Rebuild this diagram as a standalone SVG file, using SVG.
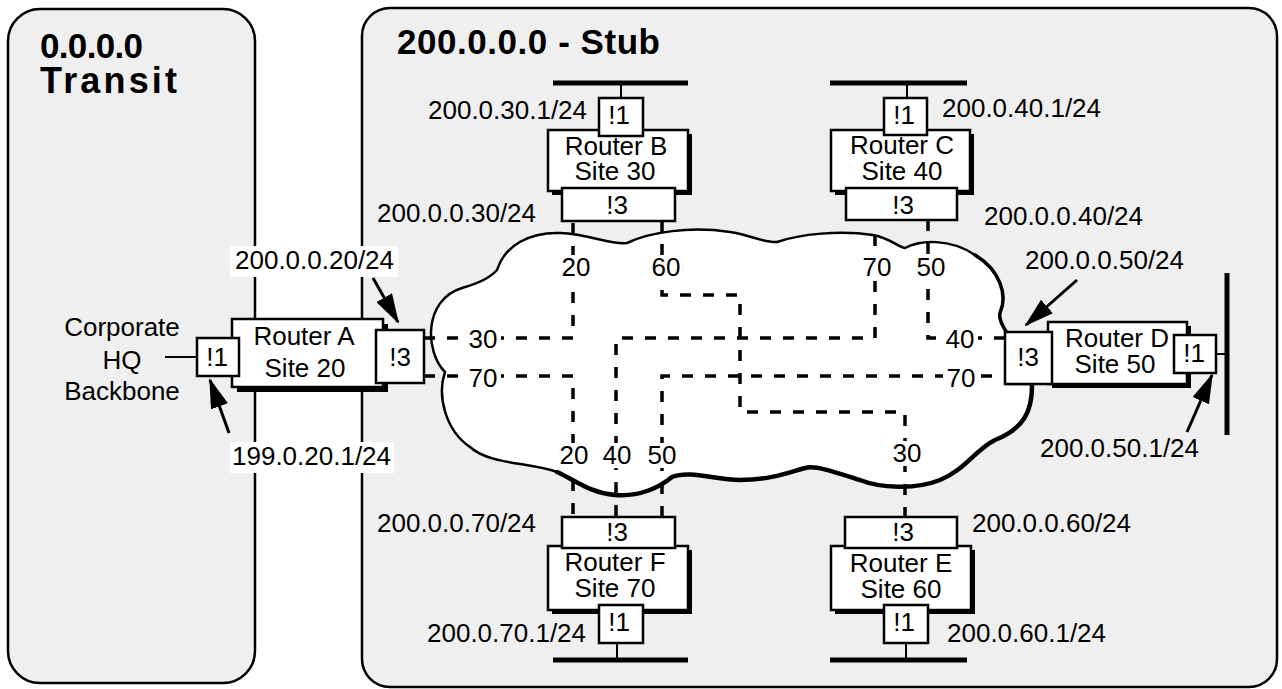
<svg xmlns="http://www.w3.org/2000/svg" width="1282" height="689" viewBox="0 0 1282 689">
<defs>
<style>
.panel{fill:#efefef;stroke:#000;stroke-width:2.5}
.box{fill:#fff;stroke:#000;stroke-width:2.5}
.shadow{fill:#000}
.t{font-family:"Liberation Sans",Arial,Helvetica,sans-serif;font-size:26px;fill:#000}
.c{text-anchor:middle}
.title{font-family:"Liberation Sans",Arial,Helvetica,sans-serif;font-weight:bold;font-size:35px;fill:#000}
.dash{fill:none;stroke:#000;stroke-width:3.5;stroke-dasharray:11 12}
.bus{stroke:#000;stroke-width:5;fill:none}
.wire{stroke:#000;stroke-width:2;fill:none}
.arrow{stroke:#000;stroke-width:3;fill:none;marker-end:url(#ah)}
.bg{fill:#fff}
.cloud{fill:#fff;stroke:#000;stroke-width:2.5}
.cloudedge{fill:none;stroke:#000;stroke-width:4.5;stroke-linecap:round}
</style>
<marker id="ah" markerUnits="userSpaceOnUse" markerWidth="30" markerHeight="18" refX="28" refY="9" orient="auto">
<path d="M0,0 L30,9 L0,18 Z" fill="#000"/>
</marker>
</defs>

<g id="panel-transit">
<rect class="panel" x="8" y="9" width="247" height="674" rx="32"/>
<text class="title" x="40" y="58" textLength="103" lengthAdjust="spacing">0.0.0.0</text>
<text class="title" x="40" y="93" style="font-size:36px" textLength="137" lengthAdjust="spacing">Transit</text>
</g>

<g id="panel-stub">
<rect class="panel" x="362" y="8" width="915" height="679" rx="28"/>
<text class="title" x="397" y="54" textLength="263" lengthAdjust="spacing">200.0.0.0 - Stub</text>
</g>

<g id="cloud">
<path class="cloud" d="M445,372 C425,352 423,300 462,288 C480,283 490,278 497,270 C505,245 530,232 560,233 C590,234 610,245 627,243 C650,232 690,226 730,232 C750,235 765,243 777,242 C800,234 840,230 873,235 C890,238 900,248 905,248 C920,240 950,238 975,255 C1000,270 1008,295 1000,313 C998,320 1004,328 1007,333 L1007,384 L1032,384 C1032,410 1025,428 995,440 C975,450 965,470 940,480 C915,490 880,488 860,480 C835,472 815,465 805,468 C790,472 770,480 740,480 C715,480 690,470 672,477 C660,487 640,497 615,495 C590,493 575,480 557,472 C530,462 490,465 470,447 C445,430 437,395 445,372 Z"/>
<path class="cloudedge" d="M1032,386 C1032,410 1025,428 995,440 C975,450 965,470 940,480 C915,490 880,488 860,480 C835,472 815,465 805,468 C790,472 770,480 740,480 C715,480 690,470 672,477 C660,487 640,497 615,495 C590,493 575,480 557,472"/>
<path class="cloudedge" style="stroke-width:3.5" d="M975,255 C1000,270 1008,295 1000,313 C998,320 1004,328 1007,333"/>
</g>

<g id="connectors">
<path class="dash" d="M424,338 H573 V221"/>
<path class="dash" d="M424,376 H573 V517"/>
<path class="dash" d="M662,221 V295 H740 V412 H905 V517"/>
<path class="dash" d="M875,235 V338 H616 V517"/>
<path class="dash" d="M928,220 V338 H1005"/>
<path class="dash" d="M662,517 V376 H1005"/>
<line class="wire" x1="165" y1="357" x2="197" y2="357"/>
<line class="bus" x1="553" y1="83" x2="688" y2="83"/>
<line class="wire" x1="621" y1="83" x2="621" y2="98"/>
<line class="bus" x1="830" y1="83" x2="967" y2="83"/>
<line class="wire" x1="907" y1="83" x2="907" y2="98"/>
<line class="bus" x1="1227" y1="273" x2="1227" y2="435"/>
<line class="wire" x1="1216" y1="354" x2="1227" y2="354"/>
<line class="bus" x1="830" y1="660" x2="967" y2="660"/>
<line class="wire" x1="906" y1="643" x2="906" y2="660"/>
<line class="bus" x1="553" y1="660" x2="688" y2="660"/>
<line class="wire" x1="617" y1="643" x2="617" y2="660"/>
</g>

<g id="cost-labels">
<rect class="bg" x="465" y="327" width="36" height="25"/>
<text class="t c" x="483" y="348">30</text>
<rect class="bg" x="465" y="366" width="36" height="25"/>
<text class="t c" x="483" y="387">70</text>
<rect class="bg" x="558" y="255" width="36" height="25"/>
<text class="t c" x="576" y="276">20</text>
<rect class="bg" x="648" y="255" width="36" height="25"/>
<text class="t c" x="666" y="276">60</text>
<rect class="bg" x="859" y="255" width="36" height="25"/>
<text class="t c" x="877" y="276">70</text>
<rect class="bg" x="913" y="255" width="36" height="25"/>
<text class="t c" x="931" y="276">50</text>
<rect class="bg" x="942" y="327" width="36" height="25"/>
<text class="t c" x="960" y="348">40</text>
<rect class="bg" x="943" y="366" width="36" height="25"/>
<text class="t c" x="961" y="387">70</text>
<rect class="bg" x="556" y="443" width="36" height="25"/>
<text class="t c" x="574" y="464">20</text>
<rect class="bg" x="599" y="443" width="36" height="25"/>
<text class="t c" x="617" y="464">40</text>
<rect class="bg" x="644" y="443" width="36" height="25"/>
<text class="t c" x="662" y="464">50</text>
<rect class="bg" x="889" y="441" width="36" height="25"/>
<text class="t c" x="907" y="462">30</text>
</g>

<g id="corporate-hq">
<text class="t c" x="122" y="336">Corporate</text>
<text class="t c" x="122" y="369">HQ</text>
<text class="t c" x="122" y="400">Backbone</text>
</g>

<g id="router-a">
<rect class="shadow" x="237" y="324" width="151" height="68"/>
<rect class="box" x="232" y="319" width="151" height="68"/>
<text class="t c" x="304" y="345">Router A</text>
<text class="t c" x="305" y="377">Site 20</text>
<rect class="box" x="197" y="338" width="42" height="38"/>
<text class="t c" x="217" y="366">!1</text>
<rect class="box" x="376" y="330" width="48" height="53"/>
<text class="t c" x="400" y="366">!3</text>
</g>

<g id="router-b">
<rect class="shadow" x="552" y="134" width="140" height="61"/>
<rect class="box" x="548" y="130" width="140" height="61"/>
<text class="t c" x="616" y="155">Router B</text>
<text class="t c" x="615" y="180">Site 30</text>
<rect class="box" x="599" y="98" width="44" height="38"/>
<text class="t c" x="619" y="124">!1</text>
<rect class="box" x="562" y="188" width="113" height="33"/>
<text class="t c" x="617" y="214">!3</text>
</g>

<g id="router-c">
<rect class="shadow" x="835" y="134" width="139" height="61"/>
<rect class="box" x="831" y="130" width="139" height="61"/>
<text class="t c" x="902" y="154">Router C</text>
<text class="t c" x="902" y="180">Site 40</text>
<rect class="box" x="884" y="98" width="43" height="37"/>
<text class="t c" x="904" y="124">!1</text>
<rect class="box" x="846" y="188" width="111" height="32"/>
<text class="t c" x="903" y="214">!3</text>
</g>

<g id="router-d">
<rect class="shadow" x="1052" y="326" width="139" height="62"/>
<rect class="box" x="1048" y="322" width="139" height="62"/>
<text class="t c" x="1117" y="347">Router D</text>
<text class="t c" x="1115" y="373">Site 50</text>
<rect class="box" x="1005" y="332" width="47" height="52"/>
<text class="t c" x="1028" y="366">!3</text>
<rect class="box" x="1174" y="335" width="42" height="38"/>
<text class="t c" x="1194" y="362">!1</text>
</g>

<g id="router-e">
<rect class="shadow" x="835" y="550" width="140" height="64"/>
<rect class="box" x="831" y="546" width="140" height="64"/>
<text class="t c" x="901" y="572">Router E</text>
<text class="t c" x="901" y="598">Site 60</text>
<rect class="box" x="845" y="517" width="112" height="31"/>
<text class="t c" x="903" y="541">!3</text>
<rect class="box" x="884" y="605" width="44" height="38"/>
<text class="t c" x="904" y="631">!1</text>
</g>

<g id="router-f">
<rect class="shadow" x="552" y="550" width="140" height="64"/>
<rect class="box" x="548" y="546" width="140" height="64"/>
<text class="t c" x="615" y="571">Router F</text>
<text class="t c" x="615" y="597">Site 70</text>
<rect class="box" x="562" y="517" width="113" height="31"/>
<text class="t c" x="617" y="541">!3</text>
<rect class="box" x="599" y="605" width="44" height="38"/>
<text class="t c" x="619" y="631">!1</text>
</g>

<g id="address-labels">
<rect class="bg" x="230" y="246" width="168" height="31"/>
<text class="t" x="235" y="269">200.0.0.20/24</text>
<rect class="bg" x="230" y="442" width="164" height="31"/>
<text class="t" x="232" y="465">199.0.20.1/24</text>
<text class="t" x="428" y="119">200.0.30.1/24</text>
<text class="t" x="942" y="117">200.0.40.1/24</text>
<text class="t" x="377" y="222">200.0.0.30/24</text>
<text class="t" x="984" y="225">200.0.0.40/24</text>
<text class="t" x="1025" y="269">200.0.0.50/24</text>
<text class="t" x="1040" y="457">200.0.50.1/24</text>
<text class="t" x="377" y="532">200.0.0.70/24</text>
<text class="t" x="972" y="532">200.0.0.60/24</text>
<text class="t" x="427" y="642">200.0.70.1/24</text>
<text class="t" x="947" y="642">200.0.60.1/24</text>
</g>

<g id="arrows">
<line class="arrow" x1="373" y1="278" x2="398" y2="322"/>
<line class="arrow" x1="229" y1="433" x2="210" y2="380"/>
<line class="arrow" x1="1077" y1="280" x2="1026" y2="325"/>
<line class="arrow" x1="1187" y1="432" x2="1212" y2="375"/>
</g>
</svg>
